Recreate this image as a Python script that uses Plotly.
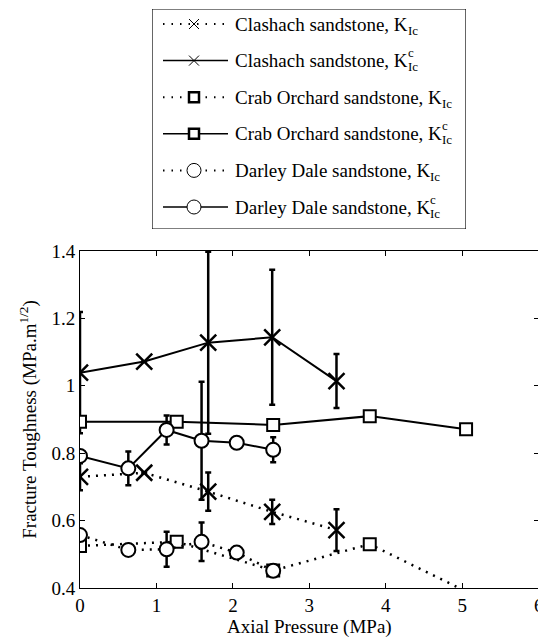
import plotly.graph_objects as go

# ---------------- data ----------------
clashach_x = [0.0, 0.84, 1.677, 2.514, 3.355]
clashach_kic = [0.730, 0.742, 0.686, 0.626, 0.572]
clashach_kic_err = [0.04, None, 0.057, 0.036, 0.062]
clashach_kicc = [1.039, 1.072, 1.128, 1.144, 1.014]
clashach_kicc_err = [0.18, None, 0.27, 0.20, 0.08]

crab_x = [0.0, 1.265, 2.527, 3.79, 5.05]
crab_kic = [0.525, 0.537, 0.452, 0.530, 0.390]
crab_kicc = [0.893, 0.893, 0.884, 0.910, 0.871]

darley_x = [0.0, 0.632, 1.133, 1.59, 2.05, 2.527]
darley_kic = [0.557, 0.513, 0.515, 0.537, 0.505, 0.451]
darley_kic_err = [None, None, 0.052, 0.057, None, 0.015]
darley_kicc = [0.792, 0.755, 0.869, 0.837, 0.831, 0.810]
darley_kicc_err = [None, 0.05, 0.043, 0.175, None, 0.037]

x_ticks = [0, 1, 2, 3, 4, 5, 6]
y_ticks = [0.4, 0.6, 0.8, 1.0, 1.2, 1.4]
y_ticktext = ["0.4", "0.6", "0.8", "1", "1.2", "1.4"]
Y_MIN, Y_MAX = 0.4, 1.4

# ---------------- layout constants (pixels) ----------------
W, H = 545, 638
AX_L, AX_R, AX_T, AX_B = 80, 538.7, 251, 588
FONT = "Liberation Serif"
DOT = "2px,6px"
LEG_DOT = "1.5px,7px"

fig = go.Figure()


def series(x, y, err, symbol, size, dash, lw_marker):
    # points lying outside the visible y-range get no marker
    sizes = [size if (v is not None and Y_MIN <= v <= Y_MAX) else 0 for v in y]
    filled = symbol in ("square", "circle")
    fig.add_trace(go.Scatter(
        x=x, y=y, mode="lines+markers",
        line=dict(color="black", width=2 if dash == "solid" else 2.5, dash=dash),
        marker=dict(symbol=symbol, size=sizes, opacity=1,
                    color="white" if filled else "black",
                    line=dict(color="black", width=lw_marker)),
        error_y=dict(type="data", array=err, visible=True,
                     color="black", thickness=2.5, width=3) if err else None,
        showlegend=False, hoverinfo="skip",
    ))


series(clashach_x, clashach_kic, clashach_kic_err, "x-thin", 16, DOT, 2.5)
series(clashach_x, clashach_kicc, clashach_kicc_err, "x-thin", 16, "solid", 2.5)
series(crab_x, crab_kic, None, "square", 12, DOT, 2)
series(crab_x, crab_kicc, None, "square", 12, "solid", 2)
series(darley_x, darley_kic, darley_kic_err, "circle", 14, DOT, 2)
series(darley_x, darley_kicc, darley_kicc_err, "circle", 14, "solid", 2)

# ---------------- legend (drawn on a pixel-unit axis over the box area) ----------------
LEG_L, LEG_T, LEG_R, LEG_B = 152, 9, 466, 229
row_y = [24 + 36.6 * i for i in range(6)]
SX0, SX1, MX, TX = 163, 228, 194, 233

legend_rows = [
    ("Clashach sandstone, K", False, LEG_DOT, "x-thin", 10, 1, 172.6),
    ("Clashach sandstone, K", True, "solid", "x-thin", 10, 1, 172.6),
    ("Crab Orchard sandstone, K", False, LEG_DOT, "square", 10, 2.5, 206.8),
    ("Crab Orchard sandstone, K", True, "solid", "square", 10, 2.5, 206.8),
    ("Darley Dale sandstone, K", False, LEG_DOT, "circle", 14, 1, 195.2),
    ("Darley Dale sandstone, K", True, "solid", "circle", 14, 1, 195.2),
]

annotations = []
for (label, crit, dash, symbol, msize, mlw, tw), ry in zip(legend_rows, row_y):
    fig.add_trace(go.Scatter(
        x=[SX0, SX1], y=[ry, ry], mode="lines",
        line=dict(color="black", width=1.5 if dash == "solid" else 2, dash=dash),
        xaxis="x2", yaxis="y2", showlegend=False, hoverinfo="skip"))
    fig.add_trace(go.Scatter(
        x=[MX], y=[ry], mode="markers",
        marker=dict(symbol=symbol, size=msize, opacity=1,
                    color="white" if symbol != "x-thin" else "black",
                    line=dict(color="black", width=mlw)),
        xaxis="x2", yaxis="y2", showlegend=False, hoverinfo="skip"))
    annotations.append(dict(x=TX, y=ry, xref="x2", yref="y2", text=label,
                            xanchor="left", yanchor="middle", showarrow=False,
                            font=dict(family=FONT, size=19, color="black")))
    annotations.append(dict(x=TX + tw, y=ry + 6, xref="x2", yref="y2", text="Ic",
                            xanchor="left", yanchor="middle", showarrow=False,
                            font=dict(family=FONT, size=13, color="black")))
    if crit:
        annotations.append(dict(x=TX + tw, y=ry - 8, xref="x2", yref="y2", text="c",
                                xanchor="left", yanchor="middle", showarrow=False,
                                font=dict(family=FONT, size=13, color="black")))

shapes = [dict(type="rect", xref="x2", yref="y2", x0=LEG_L, x1=LEG_R, y0=LEG_T, y1=LEG_B,
               line=dict(color="black", width=1.2), fillcolor="rgba(0,0,0,0)")]

axis_common = dict(showgrid=False, zeroline=False, showline=True, linecolor="black",
                   linewidth=1, mirror="ticks", ticks="inside", ticklen=5,
                   tickcolor="black", tickwidth=1,
                   tickfont=dict(family=FONT, size=19, color="black"))

fig.update_layout(
    width=W, height=H,
    margin=dict(l=0, r=0, t=0, b=0, autoexpand=False),
    paper_bgcolor="white", plot_bgcolor="rgba(0,0,0,0)",
    showlegend=False,
    font=dict(family=FONT, size=19, color="black"),
    xaxis=dict(domain=[AX_L / W, AX_R / W], range=[0, 6], tickvals=x_ticks,
               title=dict(text="Axial Pressure (MPa)", standoff=4,
                          font=dict(family=FONT, size=19, color="black")),
               automargin=False, **axis_common),
    yaxis=dict(domain=[1 - AX_B / H, 1 - AX_T / H], range=[Y_MIN, Y_MAX],
               tickvals=y_ticks, ticktext=y_ticktext,
               title=dict(text="Fracture Toughness (MPa.m<sup>1/2</sup>)", standoff=9,
                          font=dict(family=FONT, size=19, color="black")),
               automargin=False, **axis_common),
    xaxis2=dict(domain=[LEG_L / W, LEG_R / W], range=[LEG_L, LEG_R],
                visible=False, fixedrange=True),
    yaxis2=dict(domain=[1 - LEG_B / H, 1 - LEG_T / H], range=[LEG_B, LEG_T],
                visible=False, anchor="x2", fixedrange=True),
    annotations=annotations,
    shapes=shapes,
)

fig.write_html("out.html", config={"displayModeBar": False},
               post_script="document.body.style.overflow='hidden';"
                           "document.documentElement.style.overflow='hidden';")
